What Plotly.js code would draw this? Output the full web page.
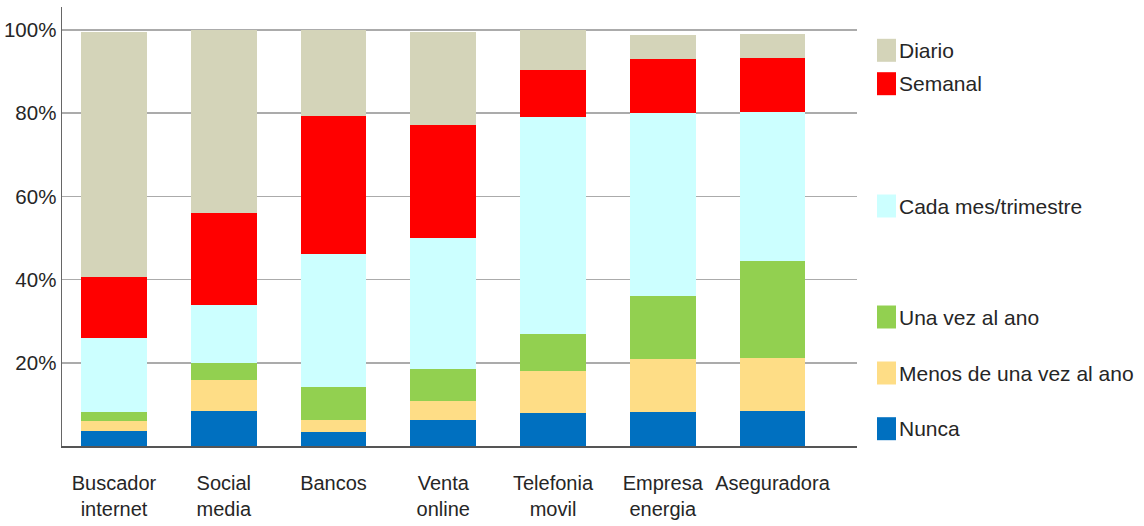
<!DOCTYPE html>
<html>
<head>
<meta charset="utf-8">
<script src="https://cdn.plot.ly/plotly-3.0.1.min.js"></script>
<style>
  html, body { margin: 0; padding: 0; background: #ffffff; }
  #chart { width: 1144px; height: 526px; }
</style>
</head>
<body>
<div id="chart"></div>
<script>
// Categories (two-line labels) and stacked shares in percent, bottom to top
const categories = [
  'Buscador<br>internet', 'Social<br>media', 'Bancos', 'Venta<br>online',
  'Telefonia<br>movil', 'Empresa<br>energia', 'Aseguradora'
];
const nunca      = [3.5, 8.4, 3.3, 6.2, 8.0, 8.1, 8.3];
const menosAno   = [2.4, 7.4, 2.9, 4.6, 10.1, 12.9, 12.9];
const unaVezAno  = [2.3, 4.1, 7.9, 7.7, 8.8, 15.0, 23.2];
const cadaMes    = [17.8, 13.9, 32.1, 31.4, 52.1, 44.0, 35.8];
const semanal    = [14.5, 22.3, 33.1, 27.3, 11.4, 13.1, 13.1];
const diario     = [59.0, 43.9, 20.7, 22.4, 9.6, 5.7, 5.7];

const seriesNames  = ['Nunca', 'Menos de una vez al ano', 'Una vez al ano',
                      'Cada mes/trimestre', 'Semanal', 'Diario'];
const seriesValues = [nunca, menosAno, unaVezAno, cadaMes, semanal, diario];
const seriesColors = ['#0070C0', '#FEDD86', '#92D050', '#CCFFFF', '#FF0000', '#D4D4B9'];

const yTickVals = [20, 40, 60, 80, 100];
const yTickText = ['20%', '40%', '60%', '80%', '100%'];

const FONT = 'Liberation Sans, Arial, sans-serif';
const TEXT_COLOR = '#262626';

const traces = seriesNames.map((name, i) => ({
  type: 'bar',
  name: name,
  x: categories,
  y: seriesValues[i],
  marker: { color: seriesColors[i], line: { width: 0 } },
  hoverinfo: 'x+y+name',
  showlegend: false
}));

// Hand-placed legend entries on the right, top to bottom
const legendRows = [
  { name: 'Diario', color: seriesColors[5], yc: 50.3 },
  { name: 'Semanal', color: seriesColors[4], yc: 83.7 },
  { name: 'Cada mes/trimestre', color: seriesColors[3], yc: 206 },
  { name: 'Una vez al ano', color: seriesColors[2], yc: 317 },
  { name: 'Menos de una vez al ano', color: seriesColors[1], yc: 373 },
  { name: 'Nunca', color: seriesColors[0], yc: 428.7 }
];
const plotLeft = 62, plotRight = 857, plotTop = 7, plotBottom = 446;
const px2paperX = px => (px - plotLeft) / (plotRight - plotLeft);
const px2paperY = py => (plotBottom - py) / (plotBottom - plotTop);

const shapes = legendRows.map(r => ({
  type: 'rect', xref: 'paper', yref: 'paper',
  x0: px2paperX(877), x1: px2paperX(896),
  y0: px2paperY(r.yc + 11.5), y1: px2paperY(r.yc - 11.5),
  fillcolor: r.color, line: { width: 0 }
}));
const annotations = legendRows.map(r => ({
  xref: 'paper', yref: 'paper',
  x: px2paperX(897), y: px2paperY(r.yc),
  xanchor: 'left', yanchor: 'middle',
  text: r.name, showarrow: false,
  font: { family: FONT, size: 21, color: TEXT_COLOR }
}));

const layout = {
  width: 1144,
  height: 526,
  margin: { l: plotLeft, r: 1144 - plotRight, t: plotTop, b: 526 - plotBottom },
  paper_bgcolor: '#ffffff',
  plot_bgcolor: '#ffffff',
  barmode: 'stack',
  bargap: 0.4,
  showlegend: false,
  font: { family: FONT, color: TEXT_COLOR },
  xaxis: {
    type: 'category',
    range: [-0.474, 6.77],
    showgrid: false,
    showline: true,
    linecolor: '#555555',
    linewidth: 2,
    ticks: '',
    ticklabelstandoff: 18,
    tickfont: { family: FONT, size: 20, color: TEXT_COLOR },
    fixedrange: true
  },
  yaxis: {
    range: [0, 105.5],
    tickvals: yTickVals,
    ticktext: yTickText,
    showgrid: true,
    gridcolor: '#ababab',
    gridwidth: 1.6,
    zeroline: false,
    showline: true,
    linecolor: '#666666',
    linewidth: 1.5,
    ticks: '',
    ticklabelstandoff: 0,
    tickfont: { family: FONT, size: 20.5, color: TEXT_COLOR },
    fixedrange: true
  },
  shapes: shapes,
  annotations: annotations
};

Plotly.newPlot('chart', traces, layout, { displayModeBar: false, staticPlot: true });
</script>
</body>
</html>
